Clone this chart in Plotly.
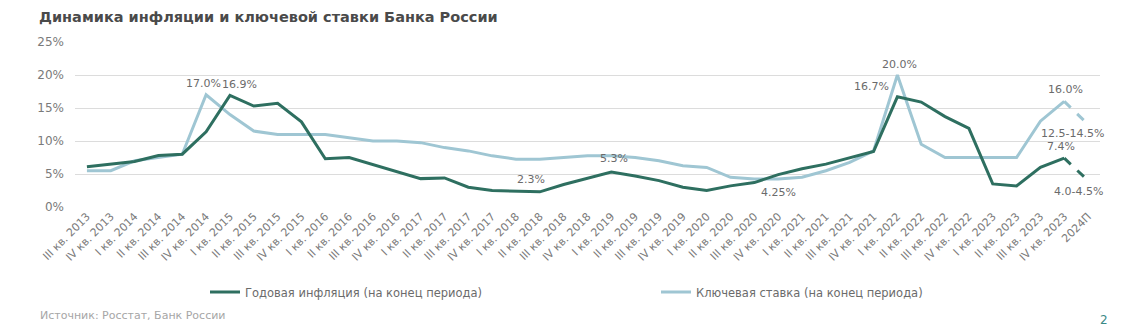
import plotly.graph_objects as go

# Quarter labels (end-of-period observations) plus the 2024 forecast
quarters = (
    ["III кв. 2013", "IV кв. 2013"]
    + [f"{q} кв. {y}" for y in range(2014, 2024) for q in ["I", "II", "III", "IV"]]
    + ["2024П"]
)

# Annual inflation, % (end of period)
inflation = [
    6.1, 6.5,
    6.9, 7.8, 8.0, 11.4,
    16.9, 15.3, 15.7, 12.9,
    7.3, 7.5, 6.4, 5.4,
    4.3, 4.4, 3.0, 2.5,
    2.4, 2.3, 3.4, 4.3,
    5.3, 4.7, 4.0, 3.0,
    2.5, 3.2, 3.7, 4.9,
    5.8, 6.5, 7.4, 8.4,
    16.7, 15.9, 13.7, 11.9,
    3.5, 3.2, 6.0, 7.4,
]
inflation_forecast = 4.0

# Bank of Russia key rate, % (end of period)
key_rate = [
    5.5, 5.5,
    7.0, 7.5, 8.0, 17.0,
    14.0, 11.5, 11.0, 11.0,
    11.0, 10.5, 10.0, 10.0,
    9.75, 9.0, 8.5, 7.75,
    7.25, 7.25, 7.5, 7.75,
    7.75, 7.5, 7.0, 6.25,
    6.0, 4.5, 4.25, 4.25,
    4.5, 5.5, 6.75, 8.5,
    20.0, 9.5, 7.5, 7.5,
    7.5, 7.5, 13.0, 16.0,
]
key_rate_forecast = 12.5

GREEN = "#2e6f60"
BLUE = "#9fc6d3"
LABEL = "#6b6b6b"
FONT = "DejaVu Sans"

W, H = 1139, 331
ML, MR, MT, MB = 75, 39, 42, 124

hist = quarters[:-1]
fig = go.Figure()

fig.add_trace(go.Scatter(
    x=hist, y=key_rate, mode="lines",
    line=dict(color=BLUE, width=3),
    name="Ключевая ставка (на конец периода)", legend="legend2",
))
fig.add_trace(go.Scatter(
    x=[quarters[-2], quarters[-1]], y=[key_rate[-1], key_rate_forecast], mode="lines",
    line=dict(color=BLUE, width=3, dash="dash"), showlegend=False,
))
fig.add_trace(go.Scatter(
    x=hist, y=inflation, mode="lines",
    line=dict(color=GREEN, width=3),
    name="Годовая инфляция (на конец периода)", legend="legend",
))
fig.add_trace(go.Scatter(
    x=[quarters[-2], quarters[-1]], y=[inflation[-1], inflation_forecast], mode="lines",
    line=dict(color=GREEN, width=3, dash="dash"), showlegend=False,
))

def label(x, y, text, dx=0, dy=-10):
    fig.add_annotation(
        x=x, y=y, text=text, showarrow=False, xshift=dx, yshift=dy,
        font=dict(family=FONT, size=11, color=LABEL),
    )

label(quarters[5], key_rate[5], "17.0%", dx=-3, dy=11)
label(quarters[6], inflation[6], "16.9%", dx=10, dy=11)
label(quarters[19], inflation[19], "2.3%", dx=-9, dy=12)
label(quarters[22], inflation[22], "5.3%", dx=3, dy=14)
label(quarters[29], key_rate[29], "4.25%", dx=0, dy=-14)
label(quarters[34], inflation[34], "16.7%", dx=-26, dy=10)
label(quarters[34], key_rate[34], "20.0%", dx=2, dy=11)
label(quarters[41], key_rate[41], "16.0%", dx=1, dy=12)
label(quarters[42], key_rate_forecast, "12.5-14.5%", dx=-16, dy=-9)
label(quarters[41], inflation[41], "7.4%", dx=-3, dy=12)
label(quarters[42], inflation_forecast, "4.0-4.5%", dx=-10, dy=-11)

pw = W - ML - MR
ph = H - MT - MB

def px_to_paper(x, y):
    return (x - ML) / pw, (H - MB - y) / ph

tx, ty = px_to_paper(37, 17)
fig.add_annotation(
    x=tx, y=ty, xref="paper", yref="paper",
    text="<b>Динамика инфляции и ключевой ставки Банка России</b>",
    showarrow=False, xanchor="left", yanchor="middle",
    font=dict(family=FONT, size=14.5, color="#4a4a4a"),
)

# Footer: source note and page number
sx, sy = px_to_paper(38, 315)
fig.add_annotation(
    x=sx, y=sy, text="Источник: Росстат, Банк России", showarrow=False,
    xref="paper", yref="paper", xanchor="left", yanchor="middle",
    font=dict(family=FONT, size=11, color="#a6a6a6"),
)
nx, ny = px_to_paper(1104, 320)
fig.add_annotation(
    x=nx, y=ny, text="2", showarrow=False,
    xref="paper", yref="paper", xanchor="center", yanchor="middle",
    font=dict(family=FONT, size=12, color="#3a8a86"),
)

l1x, ly = px_to_paper(205, 292)
l2x, _ = px_to_paper(656, 292)

fig.update_layout(
    width=W, height=H,
    margin=dict(l=ML, r=MR, t=MT, b=MB, autoexpand=False),
    paper_bgcolor="white", plot_bgcolor="white",
    font=dict(family=FONT, size=11, color="#777777"),
    xaxis=dict(
        type="category", categoryorder="array", categoryarray=quarters,
        range=[-0.5, len(quarters) - 0.5], automargin=False,
        tickangle=-45, showgrid=False, zeroline=False, showline=False,
        tickfont=dict(family=FONT, size=11, color="#7a7a7a"),
        ticks="", ticklen=0,
    ),
    yaxis=dict(
        range=[0, 25], dtick=5, ticksuffix="%", automargin=False,
        showgrid=True, gridcolor="#dcdcdc", gridwidth=1,
        zeroline=False, showline=False,
        tickfont=dict(family=FONT, size=12, color="#7a7a7a"),
        ticks="", ticklabelstandoff=10,
    ),
    legend=dict(
        x=l1x, y=ly, xanchor="left", yanchor="middle",
        orientation="h", font=dict(family=FONT, size=11.5, color="#6b6b6b"),
        itemwidth=30, bgcolor="rgba(0,0,0,0)",
    ),
    legend2=dict(
        x=l2x, y=ly, xanchor="left", yanchor="middle",
        orientation="h", font=dict(family=FONT, size=11.5, color="#6b6b6b"),
        itemwidth=30, bgcolor="rgba(0,0,0,0)",
    ),
    showlegend=True,
)

fig.write_html("out.html")
